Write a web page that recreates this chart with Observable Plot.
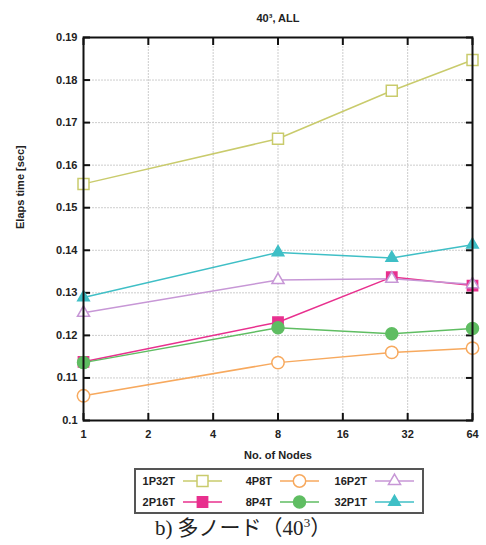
<!DOCTYPE html>
<html>
<head>
<meta charset="utf-8">
<script src="https://cdn.jsdelivr.net/npm/d3@7"></script>
<script src="https://cdn.jsdelivr.net/npm/@observablehq/plot@0.6"></script>
<style>
  body { margin: 0; background: #fff; width: 486px; height: 545px; position: relative; overflow: hidden;
         font-family: "Liberation Sans", Arial, sans-serif; }
  #chart { position: absolute; left: 0; top: 0; }
  #legend { position: absolute; left: 134px; top: 468px; }
  #caption { position: absolute; left: 0; width: 486px; top: 511px; text-align: center;
             font-family: "Liberation Serif", "DejaVu Serif", "Noto Sans CJK JP", serif; font-size: 21px; color: #222; }
  #caption sup { font-size: 13px; }
</style>
</head>
<body>
<div id="chart"></div>
<div id="legend"></div>
<div id="caption">b) 多ノード（40<sup>3</sup>）</div>
<script>
// Node counts measured (log2 axis)
const nodes = [1, 8, 27, 64];
const xTicks = [1, 2, 4, 8, 16, 32, 64];
const yTicks = [0.1, 0.11, 0.12, 0.13, 0.14, 0.15, 0.16, 0.17, 0.18, 0.19];

// Elapsed time [sec] per process/thread configuration
const names = ["1P32T", "2P16T", "4P8T", "8P4T", "16P2T", "32P1T"];
const t1P32T = [0.1556, 0.1662, 0.1775, 0.1847];
const t2P16T = [0.1138, 0.1231, 0.1337, 0.1317];
const t4P8T  = [0.1058, 0.1136, 0.1160, 0.1170];
const t8P4T  = [0.1136, 0.1218, 0.1204, 0.1216];
const t16P2T = [0.1253, 0.1330, 0.1333, 0.1320];
const t32P1T = [0.1289, 0.1395, 0.1382, 0.1413];
const values = [t1P32T, t2P16T, t4P8T, t8P4T, t16P2T, t32P1T];

const colors  = ["#c9cb6c", "#e8308e", "#f7a95e", "#5fbd62", "#c797d6", "#3fbfc6"];
const symbols = ["square", "square", "circle", "circle", "triangle", "triangle"];
const filled  = [false, true, false, true, false, true];
const radii   = [6.2, 5.8, 6.2, 6.0, 4.5, 4.3];

// Inward ticks on all four frame edges: outward axis ticks shifted back inside by their length
const tl = 7;
const noText = () => "";
const tickOpts = {tickSize: tl, tickFormat: noText, label: null, strokeWidth: 2, stroke: "#111"};

const marks = [
  Plot.gridX(xTicks, {stroke: "#c8c8c8", strokeOpacity: 0.9, strokeDasharray: "2,1"}),
  Plot.gridY(yTicks, {stroke: "#c8c8c8", strokeOpacity: 0.9, strokeDasharray: "2,1"}),
  Plot.axisX(xTicks, {anchor: "bottom", tickSize: 0, tickPadding: 10, label: null, fill: "#222"}),
  Plot.axisY(yTicks, {anchor: "left", tickSize: 0, tickPadding: 6, label: null, tickFormat: d3.format("~g"), fill: "#222"}),
  Plot.axisX(xTicks, {anchor: "bottom", dy: -tl, ...tickOpts}),
  Plot.axisX(xTicks, {anchor: "top", dy: tl, ...tickOpts}),
  Plot.axisY(yTicks, {anchor: "left", dx: tl, ...tickOpts}),
  Plot.axisY(yTicks, {anchor: "right", dx: -tl, ...tickOpts})
];

values.forEach((vals, s) => {
  marks.push(Plot.line(nodes, {x: d => d, y: (d, i) => vals[i], stroke: colors[s], strokeWidth: 1.5}));
});
values.forEach((vals, s) => {
  marks.push(Plot.dot(nodes, {
    x: d => d, y: (d, i) => vals[i],
    symbol: symbols[s], r: radii[s],
    stroke: colors[s], strokeWidth: 1.5,
    fill: filled[s] ? colors[s] : "white"
  }));
});

marks.push(
  Plot.frame({stroke: "#111", strokeWidth: 2}),
  Plot.text(["40³, ALL"], {frameAnchor: "top", lineAnchor: "middle", dy: -19, fontSize: 11, fill: "#222"}),
  Plot.text(["No. of Nodes"], {frameAnchor: "bottom", lineAnchor: "middle", dy: 35, fontSize: 11, fill: "#222"}),
  Plot.text(["Elaps time [sec]"], {frameAnchor: "left", rotate: -90, dx: -63, lineAnchor: "middle", fontSize: 11, fill: "#222"})
);

const chart = Plot.plot({
  width: 486,
  height: 465,
  marginLeft: 83,
  marginRight: 14,
  marginTop: 37,
  marginBottom: 45,
  style: {fontSize: "11px", fontFamily: "'Liberation Sans', Arial, sans-serif", fontWeight: "bold", background: "white"},
  x: {type: "log", base: 2, domain: [1, 64]},
  y: {domain: [0.1, 0.19]},
  marks
});
document.getElementById("chart").append(chart);

// Legend box: two rows of three entries
const lw = 290, lh = 46;
const legend = d3.select("#legend").append("svg").attr("width", lw).attr("height", lh)
  .style("font-family", "'Liberation Sans', Arial, sans-serif").style("font-size", "11px").style("font-weight", "bold");
legend.append("rect").attr("x", 1).attr("y", 1).attr("width", lw - 2).attr("height", lh - 2)
  .attr("fill", "white").attr("stroke", "#555").attr("stroke-width", 2);
const colX = [41, 138, 233];
const rowY = [13, 34];
const order = [[0, 2, 4], [1, 3, 5]];
order.forEach((row, r) => row.forEach((s, c) => {
  const g = legend.append("g").attr("transform", `translate(${colX[c]},${rowY[r]})`);
  g.append("text").attr("x", 0).attr("y", 0).attr("dy", "0.35em").attr("text-anchor", "end").attr("fill", "#222").text(names[s]);
  g.append("line").attr("x1", 8).attr("x2", 47).attr("y1", 0).attr("y2", 0).attr("stroke", colors[s]).attr("stroke-width", 1.5);
  const sym = {square: d3.symbolSquare, circle: d3.symbolCircle, triangle: d3.symbolTriangle}[symbols[s]];
  g.append("path").attr("transform", "translate(27.5,0)")
    .attr("d", d3.symbol(sym, Math.PI * radii[s] * radii[s])())
    .attr("stroke", colors[s]).attr("stroke-width", 1.5)
    .attr("fill", filled[s] ? colors[s] : "white");
}));
</script>
</body>
</html>
